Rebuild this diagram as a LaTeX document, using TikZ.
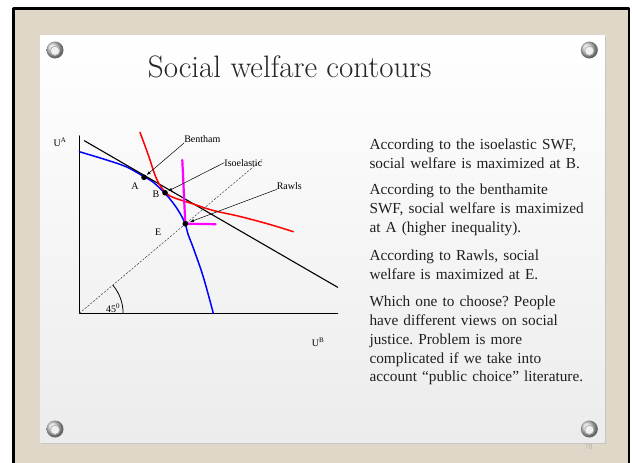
\documentclass[tikz,border=0pt]{standalone}
\usepackage{fontspec}
\newfontfamily\slidefont{Liberation Serif}
\usetikzlibrary{arrows.meta,shadings}
\frenchspacing

\definecolor{framebeige}{RGB}{223,216,201}
\definecolor{frontierblue}{RGB}{0,0,255}
\definecolor{isored}{RGB}{255,0,0}
\definecolor{rawlsmagenta}{RGB}{255,0,255}

\tikzset{
  para/.style={anchor=base west, inner sep=0pt, text width=250pt, align=left,
    font=\slidefont\fontsize{15.3}{18.8}\selectfont, text=black!88},
  lab/.style={inner sep=0pt, font=\slidefont\fontsize{10}{12}\selectfont},
  pointer/.style={-{Latex[length=4pt,width=3pt]}, line width=0.5pt},
}

\begin{document}
\begin{tikzpicture}[x=1pt, y=-1pt, line cap=round, line join=round]

    % ── Page, frame and slide ────────────────────────────────────────────────
    % 1 unit = 1 px of the 632 x 463 slide, y grows downwards
    \useasboundingbox (0,0) rectangle (632,463);
    \fill[white] (0,0) rectangle (632,463);
    \fill[framebeige] (13.3,8.3) rectangle (628.7,463);
    \draw[line width=2.4pt] (13.3,463) -- (13.3,8.3) -- (628.7,8.3) -- (628.7,463);

    % slide with a soft shadow
    \fill[gray!45] (41,36.5) rectangle (605.7,444.2);
    \shade[top color=white, bottom color=gray!15] (40,35) rectangle (604.7,442.7);

    % screws in the corners
    \foreach \sx/\sy in {55/50, 589.3/50, 55/429, 589.3/429} {
        \shade[ball color=gray!35] (\sx,\sy) circle (8.5);
        \filldraw[fill=gray!12, draw=gray!60, line width=0.8pt] (\sx,\sy+0.8) circle (4.6);
    }

    % ── Title ────────────────────────────────────────────────────────────────
    \node[anchor=base, inner sep=0pt, text=black!85, font=\fontsize{31}{31}\selectfont]
        (title) at (289.7,77.3) {Social welfare contours};

    % ── Axes ─────────────────────────────────────────────────────────────────
    \coordinate (O) at (79.3,313.3);
    \draw[line width=1.1pt] (79.3,136) -- (O) -- (337.7,313.3);
    \node[lab] (ua) at (60,142.5) {U\textsuperscript{A}};
    \node[lab] (ub) at (318,342.5) {U\textsuperscript{B}};

    % 45 degree line and its angle
    \draw[dash pattern=on 2pt off 1.6pt, line width=0.5pt, black!75] (O) -- (262,159.5);
    \draw[line width=0.8pt] (O) ++(43.8,0) arc (0:-39.6:43.8);
    \node[lab, anchor=base] (angle) at (113,312) {45\textsuperscript{0}};

    % ── Curves ───────────────────────────────────────────────────────────────
    % utility possibility frontier
    \draw[frontierblue, line width=1.5pt] plot[smooth, tension=0.6] coordinates {
        (79.3,151.7) (106.7,160) (126.7,167) (144,176.7) (153.3,182.3)
        (165,193.3) (173.3,203.3) (180,213.3) (185,223.3) (188.3,235)
        (193.3,248) (203.3,277) (213.3,313.3)};

    % benthamite contour
    \draw[line width=1.1pt] (84.3,140.7) -- (337.7,287.3);

    % isoelastic contour
    \draw[isored, line width=1.5pt] plot[smooth, tension=0.6] coordinates {
        (140,132.3) (148.3,155) (155,175) (159.3,184.3) (163.3,190)
        (170,196) (180,199.8) (193.3,204) (213.3,210.5) (240,216.5)
        (270,224.5) (293.3,231.7)};

    % rawlsian contour
    \draw[rawlsmagenta, line width=2.2pt] (182.3,160) -- (185.3,223.7) -- (215.5,224.2);

    % ── Optimum points ───────────────────────────────────────────────────────
    \coordinate (A) at (144,177.3);
    \coordinate (B) at (165,192.7);
    \coordinate (E) at (185.3,223.7);
    \fill (A) circle (2.8);
    \fill (B) circle (2.8);
    \fill (E) circle (2.8);
    \node[lab] (labA) at (135,186) {A};
    \node[lab] (labB) at (156,194) {B};
    \node[lab] (labE) at (158.3,232.7) {E};

    % ── Pointers ─────────────────────────────────────────────────────────────
    \node[lab] (bentham) at (202.3,139.3) {Bentham};
    \node[lab] (isoelastic) at (243.3,162.7) {Isoelastic};
    \node[lab] (rawls) at (289.3,185.7) {Rawls};
    \draw[pointer, shorten >=3.5pt] (bentham.south west) -- (A);
    \draw[pointer, shorten >=3.5pt] (isoelastic.west) -- (B);
    \draw[pointer, shorten >=5pt] (rawls.south west) -- (E);

    % ── Text ─────────────────────────────────────────────────────────────────
    \node[para] (p1) at (369.3,149.3)
        {According to the isoelastic SWF,\\ social welfare is maximized at B.};
    \node[para] (p2) at (369.3,194.6)
        {According to the benthamite\\ SWF, social welfare is maximized\\ at A (higher inequality).};
    \node[para] (p3) at (369.3,260.3)
        {According to Rawls, social\\ welfare is maximized at E.};
    \node[para] (p4) at (369.3,306.6)
        {Which one to choose? People\\ have different views on social\\ justice. Problem is more\\
         complicated if we take into\\ account “public choice” literature.};

    % slide number
    \node[inner sep=0pt, text=gray!60, font=\slidefont\fontsize{8}{9}\selectfont]
        (slidenum) at (588.7,447) {78};

\end{tikzpicture}
\end{document}
